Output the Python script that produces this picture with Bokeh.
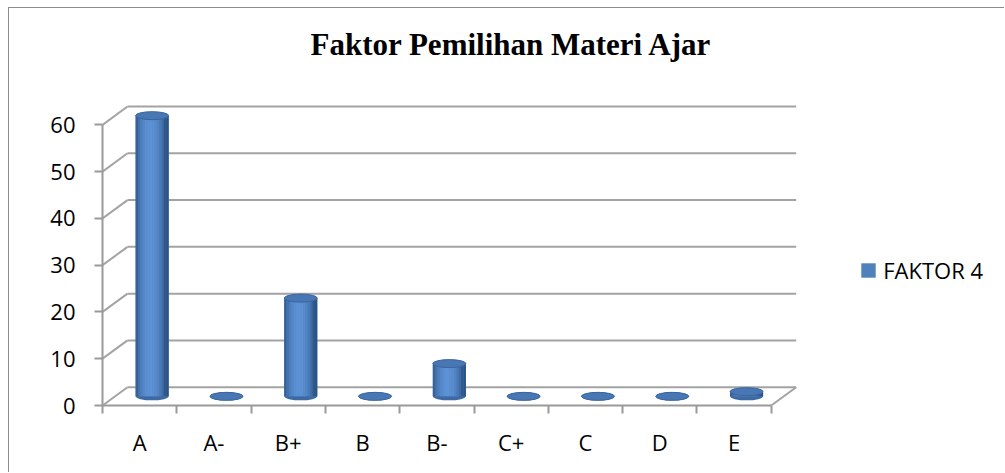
import math
from bokeh.plotting import figure
from bokeh.models import Range1d, FixedTicker, Legend, LegendItem, Label, ColumnDataSource
from bokeh.embed import file_html
from bokeh.resources import INLINE

# ---- data ----
categories = ["A", "A-", "B+", "B", "B-", "C+", "C", "D", "E"]
faktor4 = [60, 0, 21, 0, 7, 0, 0, 0, 1]
y_ticks = [0, 10, 20, 30, 40, 50, 60]
series_name = "FAKTOR 4"
title_text = "Faktor Pemilihan Materi Ajar"

# ---- layout / styling ----
OX, OY = 9, 8          # canvas origin on the page
W, H = 996, 465
LEFT, TOP = 93, 2
FRAME_BOTTOM_PAGE = 405
BOTTOM = H - (FRAME_BOTTOM_PAGE - OY)
CAT_PX = 74.3          # pixels per category
Y_PX = 4.678           # pixels per value unit
frame_w = W - LEFT
frame_h = H - TOP - BOTTOM
x_start = -0.5
x_end = x_start + frame_w / CAT_PX
y_end = frame_h / Y_PX
DX = 25 / CAT_PX       # 3D depth offset (x)
DY = 18.3 / Y_PX       # 3D depth offset (y)
BAR_W = 33 / CAT_PX
ELL_H = 8 / Y_PX
GRID = "#a3a3a3"
AXIS = "#999999"
FONT = "Open Sans"
FS = "22px"

n = len(categories)
p = figure(width=W, height=H, x_range=Range1d(x_start, x_end), y_range=Range1d(0, y_end),
           output_backend="svg", toolbar_location=None,
           min_border_left=LEFT, min_border_top=TOP, min_border_bottom=BOTTOM, min_border_right=0)
p.styles = {"margin-left": "8px", "margin-top": "7px",
            "border-left": "1px solid #8c8c8c", "border-top": "1px solid #8c8c8c"}
p.outline_line_color = None
p.xgrid.visible = False
p.ygrid.visible = False
p.background_fill_color = "white"
p.border_fill_color = "white"

# axes
ya = p.yaxis[0]
ya.ticker = FixedTicker(ticks=y_ticks)
ya.bounds = (y_ticks[0], y_ticks[-1])
ya.axis_line_color = AXIS
ya.axis_line_width = 2
ya.major_tick_line_color = AXIS
ya.major_tick_line_width = 2
ya.major_tick_out = 8
ya.major_tick_in = 0
ya.minor_tick_line_color = None
ya.major_label_text_font = FONT
ya.major_label_text_font_size = FS
ya.major_label_text_color = "black"
ya.major_label_standoff = 19

xa = p.xaxis[0]
xa.ticker = FixedTicker(ticks=list(range(n)), minor_ticks=[i - 0.5 for i in range(n + 1)])
xa.major_label_overrides = {i: c for i, c in enumerate(categories)}
xa.bounds = (-0.5, n - 0.5)
xa.axis_line_color = AXIS
xa.axis_line_width = 2
xa.major_tick_line_color = None
xa.major_tick_out = 0
xa.major_tick_in = 0
xa.minor_tick_line_color = AXIS
xa.minor_tick_line_width = 2
xa.minor_tick_out = 8
xa.minor_tick_in = 0
xa.major_label_text_font = FONT
xa.major_label_text_font_size = FS
xa.major_label_text_color = "black"
xa.major_label_standoff = 13

# back wall gridlines
p.segment(x0=[-0.5 + DX] * len(y_ticks), y0=[v + DY for v in y_ticks],
          x1=[n - 0.5 + DX] * len(y_ticks), y1=[v + DY for v in y_ticks],
          line_color=GRID, line_width=2)
# left wall diagonals
p.segment(x0=[-0.5] * len(y_ticks), y0=y_ticks,
          x1=[-0.5 + DX] * len(y_ticks), y1=[v + DY for v in y_ticks],
          line_color=GRID, line_width=2)
# floor right edge
p.segment(x0=[n - 0.5], y0=[0], x1=[n - 0.5 + DX], y1=[DY], line_color=GRID, line_width=2)

# cylinders
xc = [i + DX / 2 for i in range(n)]
base = [DY / 2] * n
tops = [DY / 2 + v for v in faktor4]

def mix(c1, c2, t):
    a = [int(c1[i:i + 2], 16) for i in (1, 3, 5)]
    b = [int(c2[i:i + 2], 16) for i in (1, 3, 5)]
    return "#%02x%02x%02x" % tuple(round(a[k] + (b[k] - a[k]) * t) for k in range(3))

DARK, LIGHT = "#2c5384", "#5d92d6"
NS = 14
p.ellipse(x=xc, y=base, width=BAR_W, height=ELL_H, fill_color="#3d6aa5", line_color=None)
body = p.vbar(x=xc, width=BAR_W, bottom=base, top=tops, fill_color="#4f81bd", line_color=None)
sx, sb, st, scol = [], [], [], []
for i in range(n):
    for k in range(NS):
        t = (k + 0.5) / NS
        s = math.sin(math.pi * min(1.0, t / 0.9)) ** 0.7 if t < 0.9 else 0.0
        sx.append(xc[i] - BAR_W / 2 + t * BAR_W)
        sb.append(base[i])
        st.append(tops[i])
        scol.append(mix(DARK, LIGHT, s))
strip_src = ColumnDataSource(dict(x=sx, bottom=sb, top=st, color=scol))
p.vbar(x="x", bottom="bottom", top="top", width=BAR_W / NS * 1.05, fill_color="color",
       line_color=None, source=strip_src)
p.ellipse(x=xc, y=tops, width=BAR_W, height=ELL_H, fill_color="#4877b4", line_color="#3a65a0",
          line_width=1)

# title
frame_left_page = OX + LEFT
p.add_layout(Label(x=(511 - frame_left_page) / CAT_PX - 0.5,
                   y=(FRAME_BOTTOM_PAGE - 44) / Y_PX,
                   text=title_text, text_align="center", text_baseline="middle",
                   text_font="Liberation Serif", text_font_style="bold", text_font_size="31px",
                   text_color="black"))

# legend
legend = Legend(items=[LegendItem(label=series_name, renderers=[body])],
                location=(861 - 1.8 - frame_left_page, 120), glyph_width=18, glyph_height=18,
                label_standoff=6, padding=0, margin=0, border_line_color=None,
                background_fill_alpha=0, label_text_font=FONT, label_text_font_size=FS,
                label_text_color="black")
p.add_layout(legend)

open("out.html", "w").write(file_html(p, INLINE))
